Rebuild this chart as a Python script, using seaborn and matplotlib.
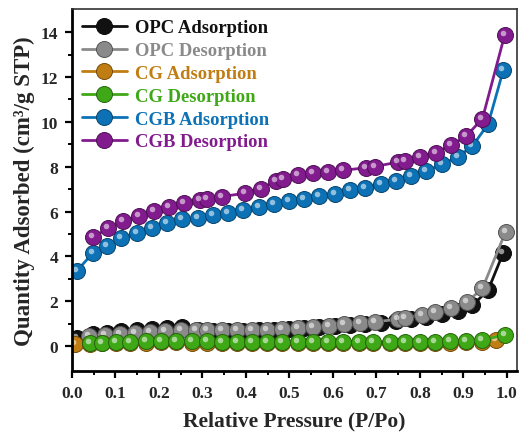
import numpy as np
import pandas as pd
import seaborn as sns
import matplotlib.pyplot as plt
import matplotlib.transforms as mtransforms

# relative pressure grids
p_ads = [0.011, 0.049, 0.08, 0.114, 0.15, 0.185, 0.219, 0.254, 0.289, 0.325, 0.36, 0.394, 0.43,
         0.465, 0.5, 0.534, 0.569, 0.605, 0.639, 0.674, 0.71, 0.745, 0.779, 0.815, 0.851, 0.887,
         0.921, 0.957, 0.992]
p_cgb_des = [0.049, 0.083, 0.118, 0.154, 0.189, 0.224, 0.258, 0.294, 0.31, 0.344, 0.399, 0.434,
             0.47, 0.486, 0.519, 0.555, 0.589, 0.624, 0.677, 0.697, 0.75, 0.767, 0.8, 0.837, 0.871,
             0.906, 0.944, 0.995]
p_opc_des = [0.04, 0.075, 0.11, 0.145, 0.18, 0.215, 0.25, 0.285, 0.31, 0.344, 0.379, 0.414, 0.448,
             0.483, 0.52, 0.555, 0.592, 0.626, 0.662, 0.698, 0.75, 0.766, 0.804, 0.834, 0.872,
             0.908, 0.944, 0.997]
p_cg_des = [0.041, 0.07, 0.101, 0.133, 0.17, 0.204, 0.239, 0.275, 0.31, 0.344, 0.379, 0.415, 0.449,
            0.484, 0.52, 0.555, 0.589, 0.624, 0.66, 0.692, 0.731, 0.766, 0.8, 0.834, 0.869, 0.906,
            0.942, 0.995]
p_cg_ads = [0.007, 0.041, 0.07, 0.101, 0.133, 0.17, 0.204, 0.239, 0.275, 0.31, 0.344, 0.379, 0.415,
            0.449, 0.484, 0.52, 0.555, 0.589, 0.624, 0.66, 0.692, 0.731, 0.766, 0.8, 0.834, 0.869,
            0.906, 0.942, 0.975]

# quantity adsorbed (cm3/g STP)
opc_ads = [0.38, 0.55, 0.6, 0.66, 0.72, 0.77, 0.8, 0.84, 0.7, 0.69, 0.69, 0.69, 0.7, 0.72, 0.76,
           0.8, 0.84, 0.88, 0.93, 0.98, 1.04, 1.1, 1.2, 1.31, 1.43, 1.56, 1.82, 2.5, 4.17]
opc_des = [0.45, 0.5, 0.55, 0.6, 0.64, 0.67, 0.7, 0.71, 0.71, 0.71, 0.72, 0.72, 0.74, 0.78, 0.82,
           0.86, 0.9, 0.97, 1.03, 1.09, 1.2, 1.24, 1.41, 1.53, 1.71, 1.96, 2.58, 5.09]
cg_ads = [0.1, 0.1, 0.12, 0.14, 0.15, 0.16, 0.17, 0.17, 0.16, 0.15, 0.14, 0.13, 0.12, 0.12, 0.12,
          0.12, 0.12, 0.12, 0.12, 0.12, 0.12, 0.12, 0.13, 0.13, 0.14, 0.15, 0.17, 0.2, 0.26]
cg_des = [0.12, 0.16, 0.18, 0.2, 0.22, 0.23, 0.23, 0.22, 0.21, 0.2, 0.19, 0.19, 0.18, 0.18, 0.18,
          0.18, 0.18, 0.18, 0.18, 0.18, 0.19, 0.19, 0.19, 0.2, 0.21, 0.23, 0.27, 0.5]
cgb_ads = [3.35, 4.17, 4.46, 4.81, 5.06, 5.28, 5.48, 5.66, 5.71, 5.83, 5.95, 6.07, 6.2, 6.33, 6.47,
           6.55, 6.7, 6.77, 6.96, 7.07, 7.22, 7.37, 7.59, 7.81, 8.11, 8.44, 8.93, 9.9, 12.32]
cgb_des = [4.87, 5.25, 5.58, 5.8, 6.03, 6.2, 6.37, 6.52, 6.58, 6.67, 6.82, 7.03, 7.37, 7.47, 7.62,
           7.71, 7.77, 7.84, 7.96, 8.01, 8.21, 8.26, 8.44, 8.63, 8.96, 9.35, 10.15, 13.87]

series = [
    ("OPC Adsorption", p_ads, opc_ads, "#111111"),
    ("OPC Desorption", p_opc_des, opc_des, "#8a8a8a"),
    ("CG Adsorption", p_cg_ads, cg_ads, "#c07d12"),
    ("CG Desorption", p_cg_des, cg_des, "#3fa816"),
    ("CGB Adsorption", p_ads, cgb_ads, "#0c72b5"),
    ("CGB Desorption", p_cgb_des, cgb_des, "#821b8e"),
]

sns.set_style("ticks")
plt.rcParams['font.family'] = ['Liberation Serif', 'DejaVu Serif']
plt.rcParams['font.weight'] = 'bold'

fig = plt.figure(figsize=(5.21, 4.39), dpi=100)
ax = fig.add_axes([0.138, 0.153, 0.854, 0.824])
shine = mtransforms.offset_copy(ax.transData, fig=fig, x=-2.0, y=2.0, units='dots')

for name, px, vals, col in series:
    df = pd.DataFrame({"P": px, "V": vals})
    edge = tuple(c * 0.6 for c in plt.matplotlib.colors.to_rgb(col))
    sns.lineplot(data=df, x="P", y="V", ax=ax, color=col, lw=2, marker="o", markersize=11.5,
                 markeredgecolor=edge, markeredgewidth=0.7, sort=False, estimator=None,
                 label=name)
    ax.plot(px, vals, "o", ms=4, color="white", alpha=0.55, mec="none", transform=shine)

ax.set_xlim(0, 1.023)
ax.set_ylim(-1.1, 15.03)
ax.set_xticks(np.arange(0, 1.01, 0.1))
ax.set_xticks(np.arange(0.05, 1.0, 0.1), minor=True)
ax.set_yticks(np.arange(0, 15, 2))
ax.set_yticks(np.arange(1, 15, 2), minor=True)
ax.xaxis.set_major_formatter(plt.FormatStrFormatter('%.1f'))
ax.tick_params(which='major', length=5, width=1.6, labelsize=12.5, direction='out', color='black',
               pad=5)
ax.tick_params(which='minor', length=3, width=1.4, direction='out', color='black')
for lab in ax.get_xticklabels() + ax.get_yticklabels():
    lab.set_fontweight('bold')

for side in ['left', 'bottom']:
    ax.spines[side].set_linewidth(2)
    ax.spines[side].set_color('black')
for side in ['top', 'right']:
    ax.spines[side].set_linewidth(1.2)
    ax.spines[side].set_color('#333333')

ax.set_xlabel("Relative Pressure (P/Po)", fontsize=15.5, fontweight='bold', labelpad=7)
ax.set_ylabel("Quantity Adsorbed (cm³/g STP)", fontsize=16.5, fontweight='bold', labelpad=4)

leg = ax.legend(loc='upper left', frameon=False, fontsize=13.4, handlelength=2.4,
                handletextpad=0.45, labelspacing=0.31, borderaxespad=0.15,
                bbox_to_anchor=(0.0, 1.0))
for txt, s in zip(leg.get_texts(), series):
    txt.set_color(s[3])
    txt.set_fontweight('bold')

fig.savefig("out.png", dpi=100)
